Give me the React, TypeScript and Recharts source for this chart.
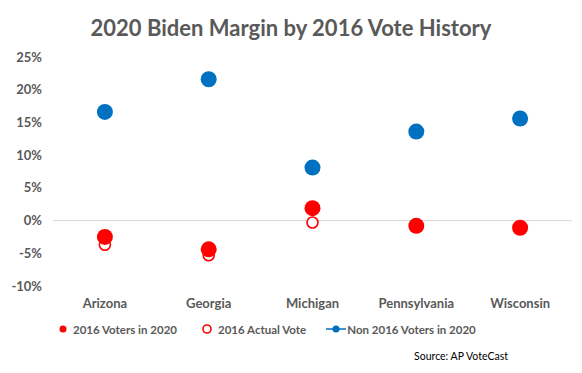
import React from "react";
import {
  ComposedChart,
  Line,
  XAxis,
  YAxis,
  ReferenceLine,
} from "recharts";

const states = ["Arizona", "Georgia", "Michigan", "Pennsylvania", "Wisconsin"];
const voters2016In2020 = [-2.5, -4.4, 1.9, -0.8, -1.1];
const actual2016 = [-3.7, -5.3, -0.3, -0.8, -1.1];
const nonVoters2016In2020 = [16.6, 21.6, 8.1, 13.6, 15.6];
const yTicks = [-10, -5, 0, 5, 10, 15, 20, 25];

const data = states.map((state, i) => ({
  state,
  voters: voters2016In2020[i],
  actual: actual2016[i],
  nonVoters: nonVoters2016In2020[i],
}));

const BLUE = "#0070C0";
const RED = "#FF0000";
const GRAY = "#595959";
const FONT = "Lato, 'Open Sans', sans-serif";

const FilledDot = (color: string, r: number) => (props: any) => {
  const { cx, cy, index } = props;
  if (cx == null || cy == null) return <g key={index} />;
  return <circle key={index} cx={cx} cy={cy} r={r} fill={color} />;
};

const OpenDot = (props: any) => {
  const { cx, cy, index } = props;
  if (cx == null || cy == null) return <g key={index} />;
  return (
    <circle key={index} cx={cx} cy={cy} r={5.5} fill="#fff" stroke={RED} strokeWidth={1.6} />
  );
};

const legendText: React.CSSProperties = {
  fontFamily: FONT,
  fontWeight: 700,
  fontSize: 11.5,
  color: GRAY,
};

export default function App() {
  return (
    <div
      style={{
        position: "absolute",
        left: 0,
        top: 0,
        width: 582,
        height: 373,
        background: "#fff",
      }}
    >
      <div
        style={{
          position: "absolute",
          top: 14,
          width: 582,
          textAlign: "center",
          fontFamily: FONT,
          fontWeight: 700,
          fontSize: 22,
          color: GRAY,
        }}
      >
        2020 Biden Margin by 2016 Vote History
      </div>
      <ComposedChart
        width={582}
        height={373}
        data={data}
        margin={{ top: 57, right: 10, left: 0, bottom: 60 }}
      >
        <XAxis
          dataKey="state"
          scale="band"
          axisLine={false}
          tickLine={false}
          height={27}
          tickMargin={7}
          tick={{ fill: GRAY, fontSize: 13, fontWeight: 700, fontFamily: FONT }}
          interval={0}
        />
        <YAxis
          domain={[-10, 25]}
          ticks={yTicks}
          width={53}
          axisLine={false}
          tickLine={false}
          tickMargin={5}
          tickFormatter={(v: number) => `${v}%`}
          tick={{ fill: GRAY, fontSize: 13, fontWeight: 700, fontFamily: FONT }}
        />
        <ReferenceLine y={0} stroke="#D9D9D9" strokeWidth={1} />
        <Line
          dataKey="actual"
          stroke="none"
          dot={OpenDot}
          activeDot={false}
          isAnimationActive={false}
        />
        <Line
          dataKey="voters"
          stroke="none"
          dot={FilledDot(RED, 8)}
          activeDot={false}
          isAnimationActive={false}
        />
        <Line
          dataKey="nonVoters"
          stroke="none"
          dot={FilledDot(BLUE, 8)}
          activeDot={false}
          isAnimationActive={false}
        />
      </ComposedChart>
      <div
        style={{
          position: "absolute",
          top: 322,
          left: 57,
          display: "flex",
          alignItems: "center",
          ...legendText,
        }}
      >
        <svg width={12} height={12} style={{ marginRight: 4 }}>
          <circle cx={6} cy={6} r={3.5} fill={RED} />
        </svg>
        <span style={{ marginRight: 23 }}>2016 Voters in 2020</span>
        <svg width={14} height={14} style={{ marginRight: 4 }}>
          <circle cx={7} cy={7} r={4} fill="#fff" stroke={RED} strokeWidth={1.6} />
        </svg>
        <span style={{ marginRight: 20 }}>2016 Actual Vote</span>
        <svg width={20} height={12} style={{ marginRight: 1 }}>
          <line x1={0} y1={6} x2={20} y2={6} stroke={BLUE} strokeWidth={1.5} />
          <circle cx={10} cy={6} r={3.5} fill={BLUE} />
        </svg>
        <span>Non 2016 Voters in 2020</span>
      </div>
      <div
        style={{
          position: "absolute",
          top: 350,
          right: 74,
          fontFamily: FONT,
          fontSize: 10.5,
          color: "#000",
        }}
      >
        Source: AP VoteCast
      </div>
    </div>
  );
}
